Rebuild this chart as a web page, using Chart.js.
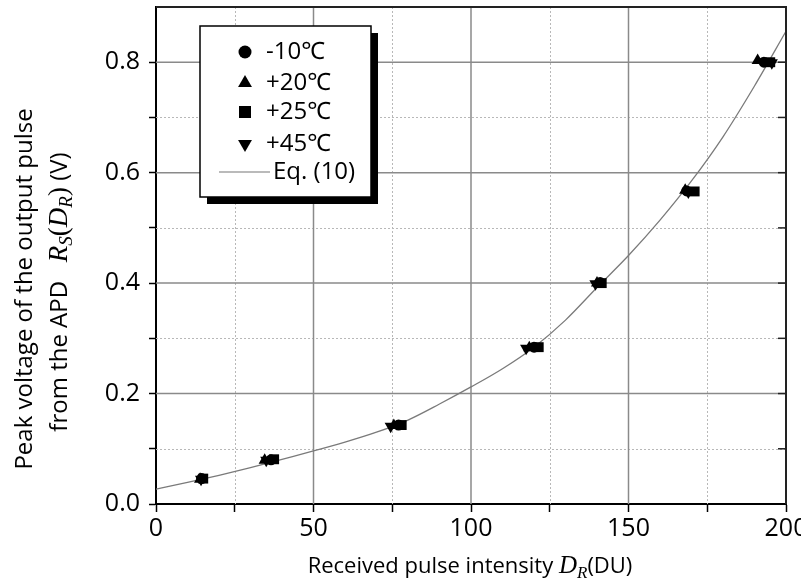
<!DOCTYPE html>
<html>
<head>
<meta charset="utf-8">
<script src="https://cdn.jsdelivr.net/npm/chart.js@4.4.0/dist/chart.umd.min.js"></script>
<style>
  html, body { margin: 0; padding: 0; background: #fff; }
  #wrap { width: 801px; height: 586px; }
</style>
</head>
<body>
<div id="wrap"><canvas id="apdChart" width="801" height="586"></canvas></div>
<script>
// measured points, one array per temperature: [D_R (DU), R_S (V)]
const seriesNames = ['-10℃', '+20℃', '+25℃', '+45℃'];
const minus10 = [[14.5, 0.046], [36.5, 0.080], [77, 0.143], [120, 0.284], [141, 0.401], [168.5, 0.567], [193, 0.800]];
const plus20  = [[14.0, 0.045], [34.5, 0.079], [75.5, 0.142], [118.5, 0.283], [140, 0.400], [168, 0.568], [191, 0.803]];
const plus25  = [[15.0, 0.046], [37.5, 0.081], [78, 0.143], [121.5, 0.284], [141.5, 0.400], [171, 0.566], [195, 0.800]];
const plus45  = [[14.3, 0.045], [35, 0.079], [74.5, 0.141], [117.5, 0.282], [139.5, 0.399], [169, 0.565], [195.5, 0.799]];

// Eq. (10) curve
const curveX = [0, 10, 20, 30, 40, 50, 60, 70, 80, 90, 100, 110, 120, 130, 140, 150, 160, 170, 180, 190, 200];
const curveY = [0.027, 0.039, 0.052, 0.066, 0.081, 0.096, 0.112, 0.130, 0.152, 0.181, 0.212, 0.245, 0.284, 0.333, 0.392, 0.450, 0.514, 0.585, 0.665, 0.757, 0.856];

const xTicks = [0, 50, 100, 150, 200];
const yTicks = [0.0, 0.2, 0.4, 0.6, 0.8];

const sans = '"Open Sans", "Noto Sans", "DejaVu Sans", sans-serif';
const serif = '"Liberation Serif", "DejaVu Serif", serif';

const toPts = arr => arr.map(p => ({ x: p[0], y: p[1] }));

function drawRuns(ctx, runs, cx, cy) {
    let total = 0;
    runs.forEach(r => { ctx.font = r.font; r.w = ctx.measureText(r.text).width; total += r.w; });
    let x = cx - total / 2;
    runs.forEach(r => {
        ctx.font = r.font;
        ctx.fillText(r.text, x, cy + (r.dy || 0));
        x += r.w;
    });
}

const decorPlugin = {
    id: 'decor',
    beforeDatasetsDraw(chart) {
        const { ctx, chartArea: a, scales: { x, y } } = chart;
        ctx.save();
        // dotted minor grid
        ctx.strokeStyle = '#b8b8b8';
        ctx.lineWidth = 1;
        ctx.setLineDash([2, 2]);
        for (let v = 25; v < 200; v += 50) {
            const px = Math.round(x.getPixelForValue(v)) + 0.5;
            ctx.beginPath(); ctx.moveTo(px, a.top); ctx.lineTo(px, a.bottom); ctx.stroke();
        }
        for (let v = 0.1; v < 0.9; v += 0.2) {
            const py = Math.round(y.getPixelForValue(v)) + 0.5;
            ctx.beginPath(); ctx.moveTo(a.left, py); ctx.lineTo(a.right, py); ctx.stroke();
        }
        // solid major grid
        ctx.setLineDash([]);
        ctx.strokeStyle = '#8a8a8a';
        ctx.lineWidth = 1.5;
        xTicks.slice(1, -1).forEach(v => {
            const px = x.getPixelForValue(v);
            ctx.beginPath(); ctx.moveTo(px, a.top); ctx.lineTo(px, a.bottom); ctx.stroke();
        });
        yTicks.slice(1).forEach(v => {
            const py = y.getPixelForValue(v);
            ctx.beginPath(); ctx.moveTo(a.left, py); ctx.lineTo(a.right, py); ctx.stroke();
        });
        ctx.restore();
    },
    afterDraw(chart) {
        const { ctx, chartArea: a, scales: { y } } = chart;
        ctx.save();
        // top and right frame with inward ticks on the right
        ctx.strokeStyle = '#222';
        ctx.lineWidth = 2;
        ctx.beginPath();
        ctx.moveTo(a.left, a.top); ctx.lineTo(a.right, a.top); ctx.lineTo(a.right, a.bottom);
        ctx.stroke();
        ctx.lineWidth = 1.5;
        for (let v = 0.1; v < 0.9; v += 0.1) {
            const py = y.getPixelForValue(v);
            ctx.beginPath(); ctx.moveTo(a.right - 8, py); ctx.lineTo(a.right, py); ctx.stroke();
        }

        // legend box with drop shadow
        const bx = 200, by = 26, bw = 171, bh = 171;
        ctx.fillStyle = '#000';
        ctx.fillRect(bx + 7, by + 7, bw, bh);
        ctx.fillStyle = '#fff';
        ctx.fillRect(bx, by, bw, bh);
        ctx.strokeStyle = '#000';
        ctx.lineWidth = 1.5;
        ctx.strokeRect(bx, by, bw, bh);

        const rows = [52, 83, 112, 144];
        const styles = [
            { pointStyle: 'circle', radius: 6.5, rotation: 0 },
            { pointStyle: 'triangle', radius: 8, rotation: 0 },
            { pointStyle: 'rect', radius: 8.5, rotation: 0 },
            { pointStyle: 'triangle', radius: 8, rotation: 180 }
        ];
        ctx.font = '24px ' + sans;
        ctx.textBaseline = 'middle';
        ctx.textAlign = 'left';
        seriesNames.forEach((name, i) => {
            ctx.fillStyle = '#000';
            ctx.strokeStyle = '#000';
            Chart.helpers.drawPoint(ctx, Object.assign({ borderWidth: 0 }, styles[i]), 245, rows[i]);
            ctx.fillText(name, 266, rows[i]);
        });
        ctx.strokeStyle = '#777';
        ctx.lineWidth = 1.2;
        ctx.beginPath(); ctx.moveTo(219, 172); ctx.lineTo(270, 172); ctx.stroke();
        ctx.fillStyle = '#000';
        ctx.fillText('Eq. (10)', 273, 172);

        // axis titles
        ctx.textBaseline = 'alphabetic';
        ctx.textAlign = 'left';
        drawRuns(ctx, [
            { text: 'Received pulse intensity ', font: '22px ' + sans },
            { text: 'D', font: 'italic 25px ' + serif },
            { text: 'R', font: 'italic 17px ' + serif, dy: 5 },
            { text: '(DU)', font: '22px ' + sans }
        ], 470, 573);

        ctx.save();
        ctx.translate(32, 289);
        ctx.rotate(-Math.PI / 2);
        drawRuns(ctx, [{ text: 'Peak voltage of the output pulse', font: '24px ' + sans }], 0, 0);
        ctx.restore();

        ctx.save();
        ctx.translate(67, 292);
        ctx.rotate(-Math.PI / 2);
        drawRuns(ctx, [
            { text: 'from the APD   ', font: '24px ' + sans },
            { text: 'R', font: 'italic 27px ' + serif },
            { text: 'S', font: 'italic 19px ' + serif, dy: 5 },
            { text: '(', font: '27px ' + serif },
            { text: 'D', font: 'italic 27px ' + serif },
            { text: 'R', font: 'italic 19px ' + serif, dy: 5 },
            { text: ')', font: '27px ' + serif },
            { text: ' (V)', font: '24px ' + sans }
        ], 0, 0);
        ctx.restore();
        ctx.restore();
    }
};

const markerStyles = [
    { pointStyle: 'circle', pointRadius: 5.5, pointRotation: 0 },
    { pointStyle: 'triangle', pointRadius: 7, pointRotation: 0 },
    { pointStyle: 'rect', pointRadius: 7, pointRotation: 0 },
    { pointStyle: 'triangle', pointRadius: 7, pointRotation: 180 }
];

const datasets = [minus10, plus20, plus25, plus45].map((arr, i) => Object.assign({
    type: 'scatter',
    label: seriesNames[i],
    data: toPts(arr),
    backgroundColor: '#000',
    borderColor: '#000',
    borderWidth: 0
}, markerStyles[i]));

datasets.push({
    type: 'line',
    label: 'Eq. (10)',
    data: curveX.map((v, i) => ({ x: v, y: curveY[i] })),
    borderColor: '#7a7a7a',
    borderWidth: 1.3,
    pointRadius: 0,
    cubicInterpolationMode: 'monotone',
    fill: false
});

const zeroPad = s => { s.paddingLeft = 0; s.paddingRight = 0; s.paddingTop = 0; s.paddingBottom = 0; };

const ctx = document.getElementById('apdChart').getContext('2d');
new Chart(ctx, {
    type: 'scatter',
    data: { datasets },
    options: {
        responsive: false,
        animation: false,
        devicePixelRatio: 1,
        layout: { padding: { top: 7, right: 15, left: 0, bottom: 0 } },
        plugins: { legend: { display: false }, tooltip: { enabled: false } },
        scales: {
            x: {
                type: 'linear', min: 0, max: 200,
                afterFit: s => { s.height = 82; zeroPad(s); },
                afterBuildTicks: s => { s.ticks = [0, 25, 50, 75, 100, 125, 150, 175, 200].map(v => ({ value: v })); },
                ticks: {
                    autoSkip: false, maxRotation: 0, padding: 2,
                    color: '#000', font: { size: 25, family: sans },
                    callback: v => xTicks.includes(v) ? String(v) : ''
                },
                grid: { drawOnChartArea: false, tickLength: 8, tickColor: '#000', tickWidth: 1.5 },
                border: { color: '#000', width: 2 }
            },
            y: {
                type: 'linear', min: 0, max: 0.9,
                afterFit: s => { s.width = 156; zeroPad(s); },
                afterBuildTicks: s => { s.ticks = [0, 0.1, 0.2, 0.3, 0.4, 0.5, 0.6, 0.7, 0.8].map(v => ({ value: v })); },
                ticks: {
                    autoSkip: false, padding: 9,
                    color: '#000', font: { size: 25, family: sans },
                    callback: v => yTicks.some(t => Math.abs(t - v) < 1e-6) ? v.toFixed(1) : ''
                },
                grid: { drawOnChartArea: false, tickLength: 7, tickColor: '#000', tickWidth: 1.5 },
                border: { color: '#000', width: 2 }
            }
        }
    },
    plugins: [decorPlugin]
});
</script>
</body>
</html>
